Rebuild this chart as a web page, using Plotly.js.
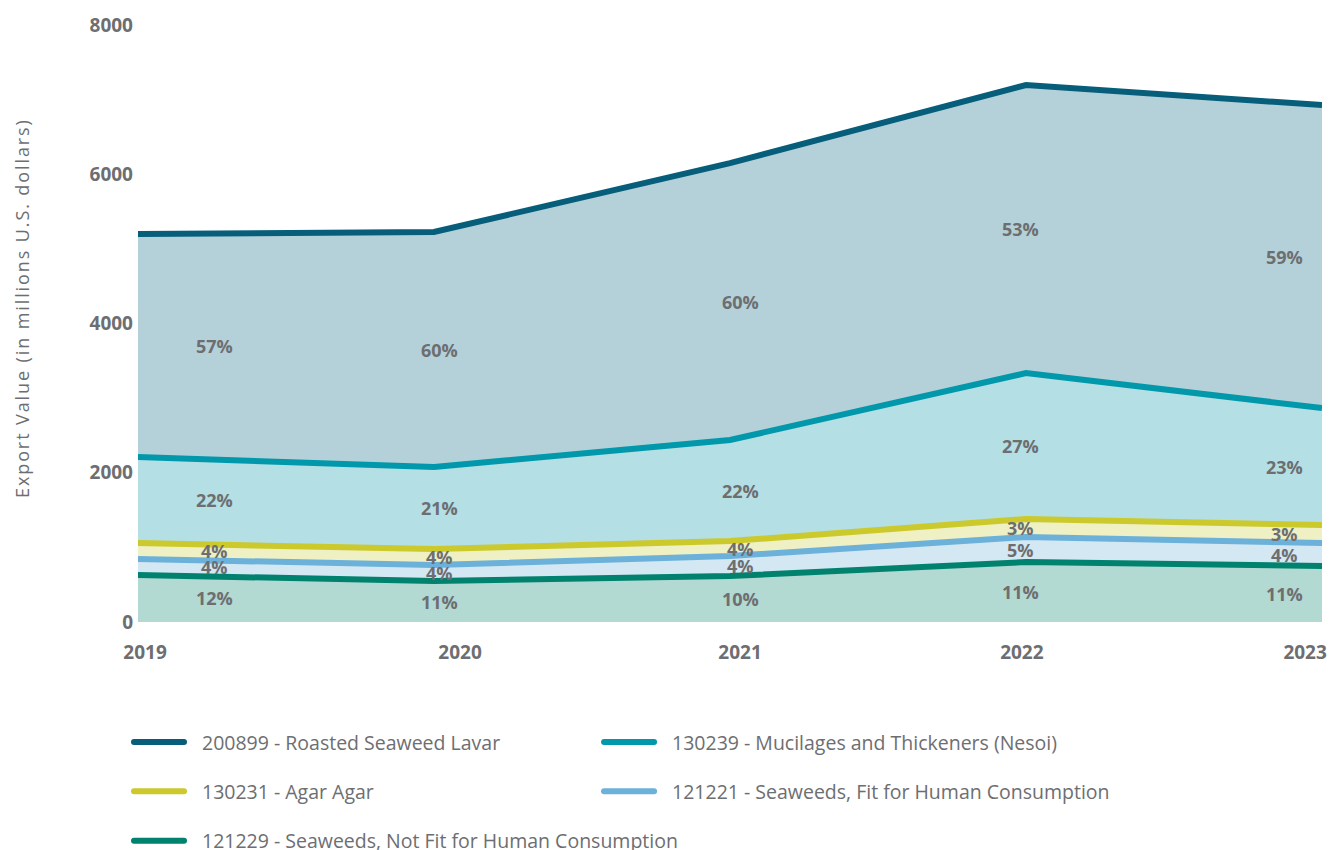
<!DOCTYPE html>
<html>
<head>
<meta charset="utf-8">
<script src="https://cdn.plot.ly/plotly-3.0.1.min.js"></script>
<style>
  html, body {margin: 0; padding: 0; background: #fff;}
  #chart {width: 1330px; height: 850px;}
  #chart .legendlines path {stroke-linecap: round;}
  #chart .annotation.ytitle-note text {letter-spacing: 1.9px;}
</style>
</head>
<body>
<div id="chart"></div>
<script>
// Seaweed export value by HS code, millions of US dollars
var years = [2019, 2020, 2021, 2022, 2023];

var notFit = [630, 549, 616, 804, 750];
var fitHuman = [214, 215, 268, 335, 308];
var agar = [214, 214, 201, 241, 242];
var mucilages = [1153, 1099, 1354, 1956, 1567];
var lavar = [2988, 3149, 3711, 3859, 4060];

var pctNotFit = ['12%', '11%', '10%', '11%', '11%'];
var pctFit = ['4%', '4%', '4%', '5%', '4%'];
var pctAgar = ['4%', '4%', '4%', '3%', '3%'];
var pctMucilages = ['22%', '21%', '22%', '27%', '23%'];
var pctLavar = ['57%', '60%', '60%', '53%', '59%'];

var names = [
  '121229 - Seaweeds, Not Fit for Human Consumption',
  '121221 - Seaweeds, Fit for Human Consumption',
  '130231 - Agar Agar',
  '130239 - Mucilages and Thickeners (Nesoi)',
  '200899 - Roasted Seaweed Lavar'
];
var yTitle = 'Export Value (in millions U.S. dollars)';

var series = [notFit, fitHuman, agar, mucilages, lavar];
var pcts = [pctNotFit, pctFit, pctAgar, pctMucilages, pctLavar];
var lineColors = ['#00826e', '#6bb1d9', '#cbc92c', '#0098aa', '#065e7a'];
var fillColors = ['#b3d9d3', '#d4e8f3', '#eff0c3', '#b3dfe5', '#b4d1d9'];
// which legend column each series goes in
var legendCol = ['legend', 'legend2', 'legend', 'legend2', 'legend'];

var textGray = '#6d6e71';
var font = '"Open Sans", Roboto, sans-serif';

var data = [];
// filled bands, no legend
series.forEach(function(s, i) {
  data.push({
    x: years,
    y: s,
    type: 'scatter',
    mode: 'lines',
    stackgroup: 'fills',
    fill: 'tonexty',
    fillcolor: fillColors[i],
    line: {width: 0, color: fillColors[i]},
    showlegend: false,
    hoverinfo: 'skip'
  });
});
// boundary lines, these carry the legend
series.forEach(function(s, i) {
  data.push({
    x: years,
    y: s,
    type: 'scatter',
    mode: 'lines',
    stackgroup: 'lines',
    fill: 'none',
    line: {width: 6, color: lineColors[i]},
    name: '\u2002\u2009' + names[i],
    legend: legendCol[i],
    legendgroup: 'g' + i,
    legendrank: series.length - i,
    hoverinfo: 'x+y+name'
  });
});

// percent labels sit in the middle of each band
var labelShift = [0.26, 0.02, 0.034, -0.02, -0.128];
var annotations = [];
var base = years.map(function() { return 0; });
series.forEach(function(s, i) {
  years.forEach(function(yr, j) {
    annotations.push({
      x: yr + labelShift[j],
      y: base[j] + s[j] / 2,
      text: pcts[i][j],
      showarrow: false,
      font: {family: font, size: 18, color: textGray, weight: 700},
      xanchor: 'center',
      yanchor: 'middle'
    });
  });
  base = base.map(function(b, j) { return b + s[j]; });
});
// y axis title, set a little above the middle like the original
var yTitleIndex = annotations.length;
annotations.push({
  xref: 'paper',
  yref: 'paper',
  x: -0.098,
  y: 0.526,
  text: yTitle,
  textangle: -90,
  showarrow: false,
  xanchor: 'center',
  yanchor: 'middle',
  font: {family: font, size: 18, color: textGray}
});

var tickShift = [0.024, 0.088, 0.034, -0.014, -0.057];

var legendBase = {
  orientation: 'v',
  traceorder: 'grouped',
  tracegroupgap: 21,
  xref: 'paper',
  yref: 'container',
  xanchor: 'left',
  y: 0.1497,
  yanchor: 'top',
  itemwidth: 50,
  font: {family: font, size: 19.5, color: textGray}
};

var layout = {
  width: 1330,
  height: 850,
  paper_bgcolor: '#fff',
  plot_bgcolor: '#fff',
  margin: {l: 138, r: 8, t: 25, b: 228},
  font: {family: font, color: textGray},
  showlegend: true,
  xaxis: {
    range: [2019, 2023],
    tickvals: years.map(function(y, i) { return y + tickShift[i]; }),
    ticktext: years.map(String),
    showgrid: false,
    zeroline: false,
    showline: false,
    ticks: '',
    ticklabelstandoff: 17,
    tickfont: {family: font, size: 19, color: textGray, weight: 700},
    fixedrange: true
  },
  yaxis: {
    range: [0, 8000],
    tickvals: [0, 2000, 4000, 6000, 8000],
    showgrid: false,
    zeroline: false,
    showline: false,
    ticks: '',
    ticklabelstandoff: 4,
    tickfont: {family: font, size: 19, color: textGray, weight: 700},
    automargin: false,
    fixedrange: true
  },
  legend: Object.assign({}, legendBase, {x: -0.0076}),
  legend2: Object.assign({}, legendBase, {x: 0.3894}),
  annotations: annotations
};

Plotly.newPlot('chart', data, layout, {displayModeBar: false, staticPlot: true}).then(function(gd) {
  var note = gd.querySelector('.annotation[data-index="' + yTitleIndex + '"]');
  if (note) note.classList.add('ytitle-note');
});
</script>
</body>
</html>
